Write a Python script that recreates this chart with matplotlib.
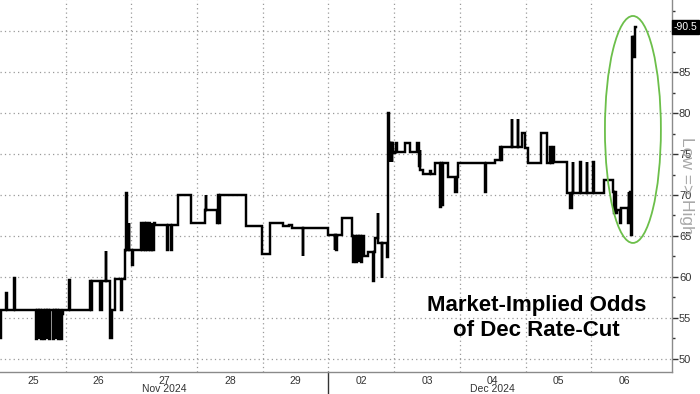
import matplotlib
matplotlib.use("Agg")
import matplotlib.pyplot as plt
from matplotlib.patches import Ellipse
import numpy as np

plt.rcParams["font.family"] = ["Liberation Sans", "DejaVu Sans"]

# trading-day position (0 = start of Nov 25) and implied odds (%)
times = [
    0.00, 0.02, 0.09, 0.11, 0.21, 0.23,
    0.55, 0.56, 0.59, 0.60, 0.63, 0.64, 0.67, 0.68, 0.71, 0.72, 0.74,
    0.76, 0.81, 0.82, 0.85, 0.86, 0.89, 0.90, 0.93, 0.95, 0.96,
    1.05, 1.06, 1.37, 1.39, 1.40, 1.52, 1.55, 1.61, 1.62,
    1.67, 1.68, 1.70, 1.75, 1.83, 1.84, 1.86, 1.90, 1.92, 1.93,
    1.96, 1.97, 2.01, 2.02,
    2.15, 2.16, 2.19, 2.20, 2.23, 2.24, 2.27, 2.28, 2.31, 2.32, 2.35,
    2.36, 2.54, 2.56, 2.60, 2.62, 2.71, 2.91,
    3.12, 3.13, 3.14, 3.30, 3.32, 3.33, 3.35, 3.38, 3.74,
    3.99, 4.11, 4.31, 4.40, 4.45, 4.50, 4.61, 4.62, 4.99,
    5.10, 5.105, 5.12, 5.125, 5.21,
    5.36, 5.38, 5.39, 5.42, 5.43, 5.46, 5.47, 5.50, 5.51, 5.54,
    5.60, 5.68, 5.69, 5.71, 5.75, 5.76, 5.81, 5.82, 5.89, 5.91, 5.92,
    5.93, 5.94, 5.96, 5.97, 5.98, 6.01, 6.03, 6.05, 6.16, 6.24, 6.35,
    6.38, 6.39, 6.40, 6.44, 6.54, 6.56, 6.62, 6.70, 6.71, 6.73, 6.74,
    6.82, 6.93, 6.95, 6.97,
    7.38, 7.40, 7.53, 7.61, 7.62, 7.64, 7.79, 7.80, 7.88, 7.89, 7.94, 7.99,
    8.04, 8.23, 8.33, 8.37, 8.39, 8.42, 8.44, 8.63, 8.68, 8.71,
    8.72, 8.73, 8.83, 8.84, 8.93, 8.94,
    9.03, 9.04, 9.19, 9.33, 9.34, 9.36, 9.37, 9.39, 9.44, 9.45,
    9.56, 9.57, 9.58, 9.59, 9.60, 9.61,
    9.62, 9.63, 9.64, 9.65, 9.66, 9.67, 9.68,
]
odds = [
    52.5, 56.0, 58.0, 56.0, 59.9, 56.0,
    52.4, 56.0, 52.4, 56.0, 52.4, 56.0, 52.4, 56.0, 52.4, 56.0, 52.4,
    56.0, 52.4, 56.0, 52.4, 56.0, 52.4, 56.0, 52.4, 55.5, 56.0,
    59.6, 56.0, 59.5, 56.0, 59.5, 56.0, 59.5, 63.2, 59.5,
    56.0, 52.6, 56.0, 59.8, 59.8, 56.0, 59.8, 63.3, 70.2, 63.3,
    66.6, 63.3, 61.5, 63.3,
    66.6, 63.3, 66.6, 63.3, 66.6, 63.3, 66.6, 63.3, 66.6, 63.3, 66.6,
    66.4, 63.3, 66.4, 63.3, 66.4, 70.0, 66.6,
    68.2, 70.0, 68.2, 66.6, 70.0, 66.6, 70.0, 70.0, 66.2,
    62.8, 66.6, 66.2, 66.4, 66.0, 66.0, 62.6, 66.0, 65.1,
    63.3, 65.1, 63.3, 65.1, 67.2,
    65.0, 61.8, 65.0, 61.8, 65.0, 61.8, 65.0, 61.8, 65.0, 62.5,
    63.0, 59.5, 63.0, 64.8, 67.8, 64.1, 59.9, 64.1, 62.4, 80.0, 76.3,
    74.0, 76.3, 74.0, 76.3, 75.1, 75.2, 76.3, 75.2, 76.3, 75.2, 76.3,
    73.5, 75.5, 73.0, 72.6, 72.9, 72.6, 73.9, 68.5, 73.9, 68.8, 73.9,
    72.2, 70.4, 72.2, 73.9,
    70.4, 73.9, 74.3, 75.9, 74.3, 75.9, 79.3, 75.9, 79.3, 75.9, 77.6, 75.7,
    73.9, 77.6, 73.9, 75.9, 73.9, 75.9, 74.0, 70.2, 68.4, 70.2,
    74.0, 70.2, 74.0, 70.2, 74.0, 70.2,
    74.0, 70.2, 71.8, 70.4, 67.8, 70.4, 67.8, 68.2, 66.6, 68.4,
    66.6, 70.4, 68.4, 70.4, 69.0, 65.1,
    89.3, 86.9, 89.3, 86.9, 89.3, 90.5, 90.5,
]
day_labels = ["25", "26", "27", "28", "29", "02", "03", "04", "05", "06"]
month_labels = ["Nov 2024", "Dec 2024"]
month_centers = [2.5, 7.5]
month_break = 5
last_value = 90.5

fig = plt.figure(figsize=(7.0, 3.94), dpi=100)
ax = fig.add_axes([0.0, 1 - 372 / 394, 672 / 700, 372 / 394])

ax.plot(times, odds, drawstyle="steps-post", color="black", lw=1.75,
        solid_joinstyle="miter", zorder=3)

ax.set_xlim(0, 10.23)
ax.set_ylim(48.4, 93.8)

# grid
grid_kw = dict(color="#9a9a9a", lw=0.9, ls=(0, (1, 2.5)), zorder=1)
for y in range(50, 91, 5):
    ax.axhline(y, **grid_kw)
for d in range(1, 10):
    ax.axvline(d, **grid_kw)

for side in ["left", "top"]:
    ax.spines[side].set_visible(False)
ax.spines["bottom"].set_color("#8a8a8a")
ax.spines["right"].set_color("#8a8a8a")
ax.spines["bottom"].set_linewidth(1.0)
ax.spines["right"].set_linewidth(1.0)

ax.yaxis.tick_right()
ax.set_yticks(range(50, 91, 5))
ax.set_yticklabels([f"{v}" for v in range(50, 91, 5)])
ax.set_yticks(np.arange(52.5, 93, 5), minor=True)
ax.tick_params(axis="y", which="major", direction="out", length=4, width=1,
               color="#333333", labelsize=8, labelcolor="#333333", pad=1)
ax.tick_params(axis="y", which="minor", direction="out", length=2.5, width=1,
               color="#333333")

ax.set_xticks(np.arange(len(day_labels)) + 0.5)
ax.set_xticklabels(day_labels)
ax.tick_params(axis="x", length=0, labelsize=7.5, labelcolor="#333333", pad=3)

for lab, c in zip(month_labels, month_centers):
    ax.text(c, -0.045, lab, transform=ax.get_xaxis_transform(), ha="center",
            va="center", fontsize=7.5, color="#333333", clip_on=False)
ax.plot([month_break, month_break], [0, -0.07], transform=ax.get_xaxis_transform(),
        color="#333333", lw=1, clip_on=False)

# last value tag
ax.text(1.003, (last_value - 48.4) / (93.8 - 48.4), f"-{last_value}",
        transform=ax.transAxes, ha="left", va="center", fontsize=7.5,
        color="white", clip_on=False, zorder=6,
        bbox=dict(boxstyle="square,pad=0.15", fc="black", ec="black"))

ax.text(1.022, 0.50, "Low => High", transform=ax.transAxes, rotation=270,
        ha="center", va="center", fontsize=12.5, color="#a8a8a8", clip_on=False)

ax.text(8.17, 55.0, "Market-Implied Odds\nof Dec Rate-Cut", ha="center", va="center",
        fontsize=16, fontweight="bold", color="black", linespacing=1.2)

ax.add_patch(Ellipse((9.635, 78.0), 0.852, 27.7, fill=False, ec="#6cbf4a",
                     lw=1.3, zorder=4))

fig.savefig("out.png", dpi=100)
